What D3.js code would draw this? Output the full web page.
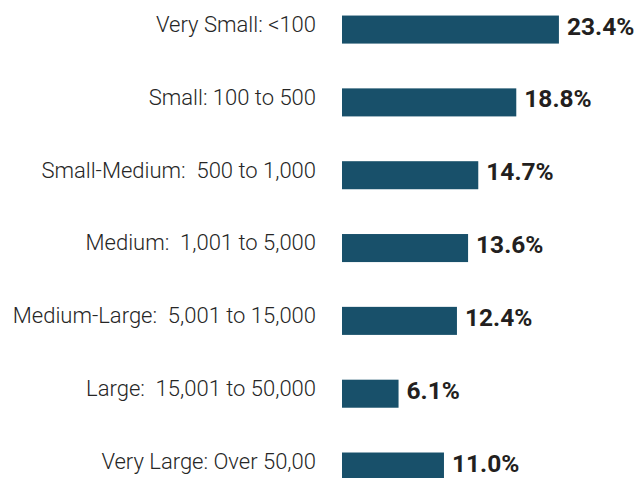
<!DOCTYPE html>
<html>
<head>
<meta charset="utf-8">
<script src="https://cdn.jsdelivr.net/npm/d3@7/dist/d3.min.js"></script>
<style>
  html, body { margin: 0; padding: 0; background: #ffffff; }
  svg { display: block; }
  text.cat { white-space: pre; }
</style>
</head>
<body>
<div id="chart"></div>
<script>
// Share of respondents by organisation size
const categories = [
  "Very Small: <100",
  "Small: 100 to 500",
  "Small-Medium:  500 to 1,000",
  "Medium:  1,001 to 5,000",
  "Medium-Large:  5,001 to 15,000",
  "Large:  15,001 to 50,000",
  "Very Large: Over 50,00"
];
const shares = [23.4, 18.8, 14.7, 13.6, 12.4, 6.1, 11.0];
const valueLabels = ["23.4%", "18.8%", "14.7%", "13.6%", "12.4%", "6.1%", "11.0%"];

const width = 642, height = 478;
const barLeft = 342;
const pxPerUnit = 9.27;

const svg = d3.select("#chart").append("svg")
  .attr("width", width)
  .attr("height", height);

const x = d3.scaleLinear()
  .domain([0, 23.4])
  .range([barLeft, barLeft + 23.4 * pxPerUnit]);

const y = d3.scaleBand()
  .domain(categories)
  .range([-6.3, 502.4])
  .paddingInner(0.615)
  .paddingOuter(0.3);

const rows = svg.selectAll("g.row")
  .data(categories.map((c, i) => ({ c, v: shares[i], lbl: valueLabels[i] })))
  .join("g")
  .attr("class", "row");

rows.append("rect")
  .attr("x", x(0))
  .attr("y", d => y(d.c))
  .attr("width", d => x(d.v) - x(0))
  .attr("height", y.bandwidth())
  .attr("fill", "#18506a");

// category names, right-aligned in the left margin, sitting slightly above bar centre
rows.append("text")
  .attr("class", "cat")
  .attr("xml:space", "preserve")
  .attr("x", 316)
  .attr("y", d => y(d.c) + y.bandwidth() / 2 + 2.3)
  .attr("text-anchor", "end")
  .attr("font-family", "Roboto, 'Liberation Sans', sans-serif")
  .attr("font-weight", 300)
  .attr("font-size", "22px")
  .attr("fill", "#262626")
  .text(d => d.c);

// bold percentage at the end of each bar
rows.append("text")
  .attr("x", d => x(d.v) + 8)
  .attr("y", d => y(d.c) + y.bandwidth() / 2 + 5)
  .attr("font-family", "Roboto, 'Liberation Sans', sans-serif")
  .attr("font-weight", 700)
  .attr("font-size", "24.5px")
  .attr("fill", "#231f20")
  .text(d => d.lbl);
</script>
</body>
</html>
